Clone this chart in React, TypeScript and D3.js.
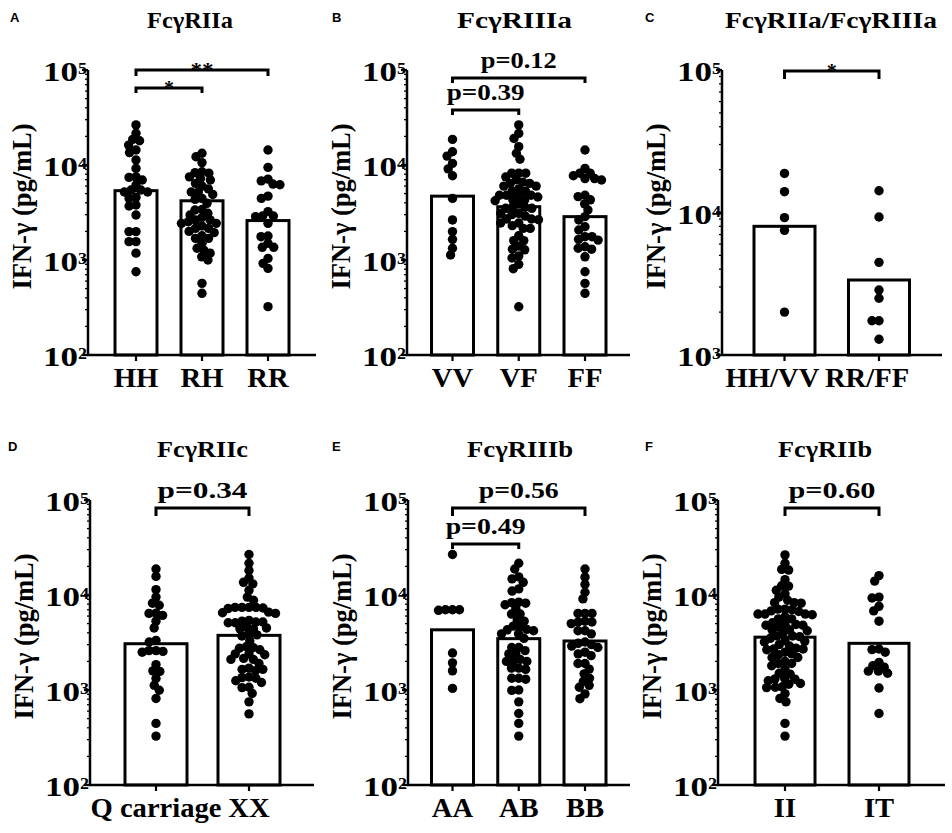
import React from 'react';
import * as d3 from 'd3';

// ---------------- DATA ----------------
const catsA = ['HH', 'RH', 'RR'];
const A_HH = [26400, 21600, 18600, 18000, 16200, 14400, 13500, 11300, 9200, 7500, 7400, 6950, 6150, 5450, 5200, 5200, 5450, 4570, 4450, 3790, 3700, 2980, 1990, 1990, 1560, 1560, 1180, 753];
const A_RH = [13300, 12200, 10600, 8500, 8300, 8200, 7500, 7200, 6950, 6400, 6000, 5600, 5200, 5200, 4900, 4450, 4350, 3950, 3400, 3360, 3100, 2980, 2800, 2640, 2640, 2530, 2430, 2430, 2280, 2150, 2150, 2000, 1940, 1800, 1690, 1690, 1500, 1330, 1270, 1180, 1080, 1000, 568, 446];
const A_RR = [14400, 9450, 7100, 6800, 6300, 6200, 4700, 4450, 3230, 2900, 2860, 2900, 2430, 1790, 1760, 1500, 1360, 1360, 1040, 922, 817, 323];
const barsA = [5370, 4200, 2600];

const catsB = ['VV', 'VF', 'FF'];
const B_VV = [18600, 13800, 12400, 10400, 9100, 7700, 4450, 2640, 1990, 1650, 1330, 1130];
const B_VF = [26400, 21500, 19000, 15600, 13300, 11500, 8200, 8200, 8200, 7500, 7000, 6600, 6400, 6400, 6000, 6000, 5600, 5300, 5300, 4800, 4800, 4800, 4700, 4600, 4300, 4300, 4200, 3900, 3600, 3600, 3500, 3500, 3100, 3100, 3000, 2900, 2700, 2700, 2650, 2450, 2450, 2300, 2150, 2150, 1800, 1600, 1600, 1400, 1300, 1280, 1100, 1050, 900, 810, 322];
const B_FF = [14400, 9200, 8200, 7700, 8200, 6950, 7200, 7200, 4650, 4800, 4300, 3900, 3360, 2860, 2640, 2240, 2070, 1760, 1760, 1620, 1650, 1380, 1330, 1300, 1080, 753, 568, 446];
const barsB = [4700, 3640, 2860];

const catsC = ['HH/VV', 'RR/FF'];
const C_HHVV = [18800, 14000, 9200, 7500, 2000];
const C_RRFF = [14200, 9300, 4470, 2860, 2500, 1740, 1740, 1290];
const barsC = [8000, 3360];

const catsD = ['Q carriage', 'XX'];
const D_Q = [18800, 15700, 11400, 9500, 8200, 7800, 6100, 6450, 6400, 5300, 4500, 3200, 3330, 2600, 2500, 2550, 2600, 1850, 1590, 1570, 1320, 1120, 995, 813, 445, 327];
const D_XX = [26700, 21600, 18100, 15100, 13600, 13100, 11200, 9500, 8800, 7400, 7400, 7300, 7400, 7400, 7200, 6400, 6500, 6600, 5200, 5100, 5400, 5300, 5200, 5100, 4500, 4400, 4600, 4400, 3800, 3700, 3900, 3300, 2800, 2750, 2650, 2850, 2400, 2350, 2400, 2100, 2150, 2100, 1900, 1650, 1650, 1600, 1700, 1350, 1330, 1370, 1200, 1250, 1070, 1060, 920, 750, 560];
const barsD = [3070, 3760];

const catsE = ['AA', 'AB', 'BB'];
const E_AA = [26700, 6900, 7000, 7000, 7000, 2450, 1930, 1590, 1040];
const E_AB = [21600, 18800, 15500, 14800, 13600, 11600, 11000, 8400, 8300, 7900, 8200, 7200, 6300, 6300, 5400, 5300, 4700, 4600, 4350, 4300, 4200, 3900, 3900, 3500, 2800, 2800, 2600, 2400, 2400, 2100, 2000, 2000, 2000, 1700, 1700, 1650, 1330, 1330, 1300, 1000, 990, 750, 566, 445, 327];
const E_BB = [18800, 15400, 12900, 10700, 9100, 6400, 6400, 6400, 5200, 5300, 5200, 5000, 4200, 4200, 3900, 3200, 3100, 2900, 3000, 2800, 2400, 2500, 2300, 1900, 1900, 1660, 1480, 1230, 1330, 1070, 1120, 910, 810];
const barsE = [4300, 3470, 3280];

const catsF = ['II', 'IT'];
const F_II = [26400, 21600, 18600, 18300, 14500, 12500, 12400, 11200, 10300, 9500, 8800, 8300, 8300, 8200, 7100, 7100, 7000, 6800, 6700, 6300, 6200, 6300, 6300, 5900, 5600, 5600, 5100, 4900, 4800, 4900, 4800, 4600, 4300, 4200, 4300, 4000, 3700, 3700, 3650, 3500, 3250, 3200, 3300, 3000, 2900, 2700, 2700, 2750, 2650, 2500, 2400, 2350, 2200, 2200, 2000, 1900, 1900, 1800, 1650, 1500, 1470, 1310, 1300, 1320, 1250, 1170, 1150, 1070, 1060, 1080, 915, 815, 750, 445, 327];
const F_IT = [16000, 14000, 9500, 9300, 7600, 6800, 5300, 2660, 2700, 2500, 1580, 1580, 1500, 1740, 1950, 1800, 1050, 566];
const barsF = [3600, 3100];

const titles = ['FcγRIIa', 'FcγRIIIa', 'FcγRIIa/FcγRIIIa', 'FcγRIIc', 'FcγRIIIb', 'FcγRIIb'];
const letters = ['A', 'B', 'C', 'D', 'E', 'F'];
const yLabel = 'IFN-γ (pg/mL)';

// comparisons: [fromIndex, toIndex, level (pg/mL), label]
const compsA: [number, number, number, string][] = [[0, 2, 100000, '**'], [0, 1, 64600, '*']];
const compsB: [number, number, number, string][] = [[0, 2, 82400, 'p=0.12'], [0, 1, 37900, 'p=0.39']];
const compsC: [number, number, number, string][] = [[0, 1, 98400, '*']];
const compsD: [number, number, number, string][] = [[0, 1, 82400, 'p=0.34']];
const compsE: [number, number, number, string][] = [[0, 2, 82400, 'p=0.56'], [0, 1, 34500, 'p=0.49']];
const compsF: [number, number, number, string][] = [[0, 1, 82400, 'p=0.60']];

// ---------------- LAYOUT ----------------
const SERIF = 'Liberation Serif';
const SANS = 'Liberation Sans';

interface PanelCfg {
  letter: string; title: string; cats: string[]; groups: number[][]; bars: number[];
  comps: [number, number, number, string][];
  domain: [number, number];
  axisX: number; x1: number; c0: number; c1: number; barW: number;
  yTop: number; yBot: number; titleX: number; titleW: number; titleY: number;
  letterX: number; letterY: number; compW: number[]; drops: number[]; labelDx: number;
}

const panels: PanelCfg[] = [
  { letter: letters[0], title: titles[0], cats: catsA, groups: [A_HH, A_RH, A_RR], bars: barsA, comps: compsA, domain: [1e2, 1e5],
    axisX: 88, x1: 316, c0: 136, c1: 268, barW: 42, yTop: 70, yBot: 355, titleX: 190, titleW: 86, titleY: 28, letterX: 10, letterY: 22, compW: [23, 10], drops: [6, 5], labelDx: 0 },
  { letter: letters[1], title: titles[1], cats: catsB, groups: [B_VV, B_VF, B_FF], bars: barsB, comps: compsB, domain: [1e2, 1e5],
    axisX: 407, x1: 630, c0: 452.5, c1: 585, barW: 42, yTop: 70, yBot: 355, titleX: 514.5, titleW: 115, titleY: 28, letterX: 332, letterY: 22, compW: [76, 78], drops: [5, 5], labelDx: 0 },
  { letter: letters[2], title: titles[2], cats: catsC, groups: [C_HHVV, C_RRFF], bars: barsC, comps: compsC, domain: [1e3, 1e5],
    axisX: 722, x1: 942, c0: 784.5, c1: 879, barW: 61, yTop: 70, yBot: 355, titleX: 831, titleW: 212, titleY: 28, letterX: 645, letterY: 22, compW: [10], drops: [8], labelDx: -12 },
  { letter: letters[3], title: titles[3], cats: catsD, groups: [D_Q, D_XX], bars: barsD, comps: compsD, domain: [1e2, 1e5],
    axisX: 90, x1: 314, c0: 156, c1: 249, barW: 62, yTop: 500, yBot: 785, titleX: 202.5, titleW: 91, titleY: 457, letterX: 8, letterY: 451, compW: [90], drops: [8], labelDx: 0 },
  { letter: letters[4], title: titles[4], cats: catsE, groups: [E_AA, E_AB, E_BB], bars: barsE, comps: compsE, domain: [1e2, 1e5],
    axisX: 408, x1: 630, c0: 452.5, c1: 585, barW: 42, yTop: 500, yBot: 785, titleX: 520, titleW: 106, titleY: 457, letterX: 332, letterY: 451, compW: [80, 80], drops: [8, 5], labelDx: 0 },
  { letter: letters[5], title: titles[5], cats: catsF, groups: [F_II, F_IT], bars: barsF, comps: compsF, domain: [1e2, 1e5],
    axisX: 718, x1: 945, c0: 785, c1: 879, barW: 60, yTop: 500, yBot: 785, titleX: 825, titleW: 94, titleY: 457, letterX: 645, letterY: 451, compW: [87], drops: [8], labelDx: 0 },
];

const R = 4.7;
const COLL = 7;

function swarm(values: number[], y: (v: number) => number, d: number) {
  const pts = values.map((v) => ({ v, y: y(v), dx: 0 })).sort((a, b) => a.y - b.y);
  const placed: { v: number; y: number; dx: number }[] = [];
  for (const p of pts) {
    const near = placed.filter((q) => Math.abs(q.y - p.y) < d);
    const cands = [0];
    for (const q of near) {
      const off = Math.sqrt(d * d - (q.y - p.y) ** 2);
      cands.push(q.dx + off, q.dx - off);
    }
    cands.sort((a, b) => Math.abs(a) - Math.abs(b) || a - b);
    for (const c of cands) {
      if (near.every((q) => Math.hypot(q.dx - c, q.y - p.y) >= d - 1e-6)) {
        p.dx = c;
        break;
      }
    }
    placed.push(p);
  }
  return placed;
}

function Panel({ cfg }: { cfg: PanelCfg }) {
  const y = d3.scaleLog().domain(cfg.domain).range([cfg.yBot, cfg.yTop]);
  const x = d3.scalePoint<string>().domain(cfg.cats).range([cfg.c0, cfg.c1]);
  const k0 = Math.round(Math.log10(cfg.domain[0]));
  const k1 = Math.round(Math.log10(cfg.domain[1]));
  const majors = d3.range(k0, k1 + 1);
  const minors: number[] = [];
  for (let k = k0; k < k1; k++) for (let m = 2; m <= 9; m++) minors.push(m * Math.pow(10, k));
  const yMid = (cfg.yTop + cfg.yBot) / 2 - 6;

  return (
    <g>
      <text x={cfg.letterX} y={cfg.letterY} fontFamily={SANS} fontWeight="bold" fontSize={13}>{cfg.letter}</text>
      <text x={cfg.titleX - cfg.titleW / 2} y={cfg.titleY} fontFamily={SERIF} fontWeight="bold" fontSize={24}
        textLength={cfg.titleW} lengthAdjust="spacingAndGlyphs">{cfg.title}</text>
      <text transform={`translate(${cfg.axisX - 57},${yMid}) rotate(-90)`} x={-83} y={0} fontFamily={SERIF}
        fontWeight="bold" fontSize={27} textLength={166} lengthAdjust="spacingAndGlyphs">{yLabel}</text>

      {/* bars */}
      {cfg.bars.map((b, i) => (
        <rect key={'b' + i} x={(x(cfg.cats[i]) as number) - cfg.barW / 2} y={y(b)} width={cfg.barW}
          height={cfg.yBot - y(b)} fill="#fff" stroke="#000" strokeWidth={3} />
      ))}

      {/* y axis */}
      <line x1={cfg.axisX} x2={cfg.axisX} y1={cfg.yTop} y2={cfg.yBot} stroke="#000" strokeWidth={2.5} />
      {minors.map((m, i) => (
        <line key={'mn' + i} x1={cfg.axisX - 3} x2={cfg.axisX} y1={y(m)} y2={y(m)} stroke="#000" strokeWidth={1.3} />
      ))}
      {majors.map((k) => {
        const yy = y(Math.pow(10, k));
        return (
          <g key={'mj' + k}>
            <line x1={cfg.axisX - 6} x2={cfg.axisX} y1={yy} y2={yy} stroke="#000" strokeWidth={2.2} />
            <text x={cfg.axisX - 45} y={yy + 11} fontFamily={SERIF} fontWeight="bold" fontSize={28}
              textLength={35} lengthAdjust="spacingAndGlyphs">10</text>
            <text x={cfg.axisX - 10} y={yy + 4} fontFamily={SERIF} fontWeight="bold" fontSize={17}
              textLength={9} lengthAdjust="spacingAndGlyphs">{k}</text>
          </g>
        );
      })}

      {/* x axis */}
      <line x1={cfg.axisX - 1} x2={cfg.x1} y1={cfg.yBot} y2={cfg.yBot} stroke="#000" strokeWidth={2.5} />
      {cfg.cats.map((c) => (
        <g key={'xc' + c}>
          <line x1={x(c)} x2={x(c)} y1={cfg.yBot} y2={cfg.yBot + 6} stroke="#000" strokeWidth={2.2} />
          <text transform={`translate(${(x(c) as number) + cfg.labelDx},${cfg.yBot + 32}) scale(1.06,1)`}
            textAnchor="middle" fontFamily={SERIF} fontWeight="bold" fontSize={27}>{c}</text>
        </g>
      ))}

      {/* dots */}
      {cfg.groups.map((g, gi) =>
        swarm(g, (v) => y(v), COLL).map((p, i) => (
          <circle key={'d' + gi + '_' + i} cx={(x(cfg.cats[gi]) as number) + p.dx} cy={p.y} r={R} fill="#000" />
        ))
      )}

      {/* comparisons */}
      {cfg.comps.map(([a, b, lvl, label], i) => {
        const yy = y(lvl);
        const xa = x(cfg.cats[a]) as number;
        const xb = x(cfg.cats[b]) as number;
        const drop = cfg.drops[i];
        const isStar = label.startsWith('*');
        const w = cfg.compW[i];
        return (
          <g key={'cmp' + i}>
            <text x={(xa + xb) / 2 - w / 2} y={isStar ? yy + 7 : yy - 10} fontFamily={SERIF} fontWeight="bold"
              fontSize={isStar ? 21 : 23} textLength={w} lengthAdjust="spacingAndGlyphs">{label}</text>
            <path d={`M${xa},${yy + drop}V${yy}H${xb}V${yy + drop}`} fill="none" stroke="#000" strokeWidth={3} />
          </g>
        );
      })}
    </g>
  );
}

export default function App() {
  return (
    <svg width={952} height={833} viewBox="0 0 952 833"
      style={{ position: 'absolute', left: 0, top: 0, background: '#fff' }}>
      <rect x={0} y={0} width={952} height={833} fill="#fff" />
      {panels.map((p) => <Panel key={p.letter} cfg={p} />)}
    </svg>
  );
}
